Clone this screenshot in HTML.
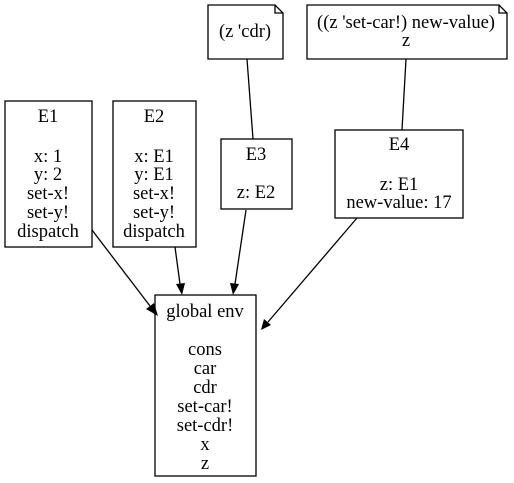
<!DOCTYPE html>
<html><head><style>body{margin:0;background:#fff}svg{display:block}text{font-family:"Liberation Serif",serif;font-size:18.5px;fill:#000}</style></head>
<body>
<svg width="514" height="483" viewBox="0 0 514 483" xmlns="http://www.w3.org/2000/svg">
<g fill="none" stroke="#000" stroke-width="1.3">
<rect x="5" y="101" width="87" height="146"/>
<rect x="113" y="101" width="83" height="146"/>
<rect x="221" y="139" width="71" height="70"/>
<rect x="335" y="130" width="128" height="88"/>
<rect x="155" y="295" width="101" height="181"/>
<path d="M208 5H275L283 13V59H208Z M275 5V13H283"/>
<path d="M307 5H499L507 13V59H307Z M499 5V13H507"/>
<path d="M247 59L253 139"/>
<path d="M406 59L402 130"/>
<path d="M92 230L150 306"/>
<path d="M175 247L180 284"/>
<path d="M246 210L235 284"/>
<path d="M357 218L268 322"/>
</g>
<g fill="#000">
<polygon points="158,316 146,309 154,303"/>
<polygon points="182,295 176,284 185,283"/>
<polygon points="233,295 230,283 239,284"/>
<polygon points="261,330 264,319 271,325"/>
</g>
<g text-anchor="middle" dominant-baseline="central">
<text x="48" y="117">E1</text><text x="48" y="157">x: 1</text><text x="48" y="175">y: 2</text><text x="48" y="194">set-x!</text><text x="48" y="213">set-y!</text><text x="48" y="232">dispatch</text>
<text x="154" y="117">E2</text><text x="154" y="157">x: E1</text><text x="154" y="175">y: E1</text><text x="154" y="194">set-x!</text><text x="154" y="213">set-y!</text><text x="154" y="232">dispatch</text>
<text x="256" y="155">E3</text><text x="256" y="193">z: E2</text>
<text x="399" y="145">E4</text><text x="399" y="185">z: E1</text><text x="399" y="203">new-value: 17</text>
<text x="205" y="312">global env</text><text x="205" y="350">cons</text><text x="205" y="369">car</text><text x="205" y="388">cdr</text><text x="205" y="407">set-car!</text><text x="205" y="426">set-cdr!</text><text x="205" y="445">x</text><text x="205" y="464">z</text>
<text x="245" y="32">(z 'cdr)</text>
<text x="406" y="23">((z 'set-car!) new-value)</text><text x="406" y="41">z</text>
</g>
</svg>
</body></html>
